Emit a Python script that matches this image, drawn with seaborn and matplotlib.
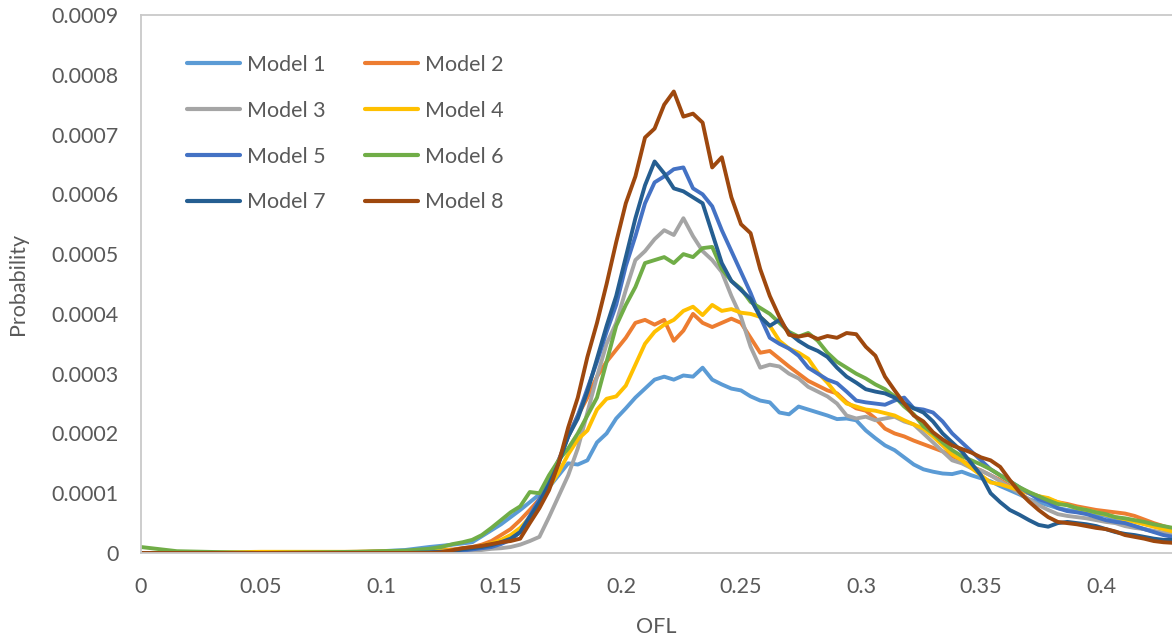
import numpy as np
import pandas as pd
import matplotlib
matplotlib.use("Agg")
import matplotlib.pyplot as plt
from matplotlib.ticker import FuncFormatter, MultipleLocator
import seaborn as sns

# OFL sample positions: a sparse lead-in, then a regular grid over the main mass
ofl_lead = [0.0, 0.015, 0.05, 0.09, 0.11, 0.12, 0.125]
ofl_main = [round(0.13 + 0.004 * i, 3) for i in range(76)]
ofl = ofl_lead + ofl_main

# Probabilities in units of 1e-4
model_1 = [0, 0, 0, 0.01, 0.05, 0.10, 0.12,
           0.14, 0.16, 0.18, 0.28, 0.38, 0.48, 0.60, 0.72, 0.85, 0.98,
           1.10, 1.30, 1.50, 1.48, 1.55, 1.85, 2.00, 2.25, 2.42, 2.60,
           2.75, 2.90, 2.95, 2.90, 2.97, 2.95, 3.10, 2.90, 2.82, 2.75,
           2.72, 2.62, 2.55, 2.52, 2.35, 2.32, 2.45, 2.40, 2.35, 2.30,
           2.24, 2.25, 2.22, 2.05, 1.92, 1.80, 1.72, 1.60, 1.48, 1.40,
           1.36, 1.33, 1.32, 1.36, 1.30, 1.25, 1.20, 1.12, 1.05, 0.98,
           0.90, 0.85, 0.80, 0.75, 0.72, 0.70, 0.68, 0.65, 0.62, 0.55,
           0.50, 0.45, 0.40, 0.36, 0.33, 0.30]
model_2 = [0, 0, 0, 0.02, 0.03, 0.04, 0.05,
           0.06, 0.08, 0.10, 0.14, 0.20, 0.30, 0.40, 0.55, 0.72, 0.90,
           1.20, 1.55, 1.95, 2.30, 2.60, 2.95, 3.20, 3.40, 3.60, 3.85,
           3.90, 3.82, 3.90, 3.55, 3.72, 4.00, 3.85, 3.78, 3.85, 3.92,
           3.85, 3.60, 3.35, 3.38, 3.25, 3.12, 3.00, 2.88, 2.80, 2.72,
           2.67, 2.52, 2.42, 2.38, 2.25, 2.08, 2.00, 1.95, 1.88, 1.82,
           1.76, 1.70, 1.62, 1.55, 1.45, 1.38, 1.30, 1.22, 1.12, 1.05,
           1.00, 0.95, 0.90, 0.85, 0.82, 0.78, 0.75, 0.72, 0.70, 0.68,
           0.66, 0.62, 0.56, 0.50, 0.45, 0.40]
model_3 = [0, 0, 0, 0, 0.01, 0.01, 0.02,
           0.02, 0.03, 0.04, 0.05, 0.07, 0.08, 0.10, 0.14, 0.20, 0.27,
           0.60, 0.95, 1.30, 1.75, 2.35, 2.95, 3.50, 3.85, 4.40, 4.90,
           5.05, 5.25, 5.40, 5.32, 5.60, 5.30, 5.05, 4.90, 4.70, 4.30,
           3.95, 3.45, 3.10, 3.15, 3.12, 3.00, 2.92, 2.78, 2.70, 2.62,
           2.50, 2.30, 2.25, 2.28, 2.22, 2.25, 2.28, 2.20, 2.15, 2.00,
           1.85, 1.70, 1.55, 1.50, 1.42, 1.38, 1.30, 1.20, 1.10, 1.00,
           0.90, 0.80, 0.72, 0.65, 0.62, 0.60, 0.58, 0.55, 0.52, 0.50,
           0.45, 0.42, 0.40, 0.37, 0.34, 0.32]
model_4 = [0, 0, 0.02, 0.02, 0.03, 0.04, 0.04,
           0.05, 0.07, 0.09, 0.12, 0.16, 0.22, 0.30, 0.42, 0.60, 0.85,
           1.10, 1.35, 1.65, 1.90, 2.05, 2.40, 2.58, 2.62, 2.80, 3.15,
           3.50, 3.70, 3.82, 3.90, 4.05, 4.12, 3.98, 4.15, 4.05, 4.08,
           4.02, 4.00, 3.95, 3.80, 3.55, 3.42, 3.35, 3.25, 3.02, 2.85,
           2.65, 2.50, 2.45, 2.40, 2.38, 2.34, 2.30, 2.22, 2.15, 2.08,
           1.95, 1.80, 1.65, 1.55, 1.42, 1.30, 1.18, 1.15, 1.10, 1.05,
           1.00, 0.95, 0.92, 0.85, 0.80, 0.75, 0.72, 0.68, 0.64, 0.60,
           0.56, 0.52, 0.48, 0.44, 0.40, 0.36]
model_5 = [0, 0, 0, 0, 0.01, 0.01, 0.02,
           0.02, 0.04, 0.06, 0.08, 0.10, 0.15, 0.22, 0.35, 0.62, 0.90,
           1.20, 1.55, 1.95, 2.30, 2.75, 3.20, 3.70, 4.15, 4.80, 5.30,
           5.85, 6.20, 6.30, 6.42, 6.45, 6.10, 6.00, 5.80, 5.40, 5.05,
           4.70, 4.35, 3.95, 3.60, 3.50, 3.42, 3.30, 3.10, 3.00, 2.90,
           2.84, 2.70, 2.55, 2.52, 2.50, 2.48, 2.55, 2.60, 2.42, 2.40,
           2.35, 2.20, 2.00, 1.85, 1.70, 1.55, 1.40, 1.30, 1.20, 1.10,
           1.00, 0.90, 0.85, 0.75, 0.70, 0.68, 0.65, 0.60, 0.55, 0.52,
           0.50, 0.45, 0.40, 0.35, 0.30, 0.27]
model_6 = [0.10, 0.03, 0, 0.02, 0.04, 0.07, 0.10,
           0.15, 0.18, 0.22, 0.30, 0.42, 0.55, 0.68, 0.78, 1.02, 1.00,
           1.30, 1.55, 1.75, 2.00, 2.30, 2.60, 3.20, 3.80, 4.15, 4.45,
           4.85, 4.90, 4.95, 4.85, 5.00, 4.95, 5.10, 5.12, 4.75, 4.55,
           4.42, 4.20, 4.10, 4.00, 3.85, 3.70, 3.62, 3.68, 3.55, 3.35,
           3.20, 3.10, 3.00, 2.92, 2.82, 2.74, 2.62, 2.45, 2.32, 2.12,
           2.00, 1.85, 1.72, 1.62, 1.55, 1.48, 1.40, 1.30, 1.20, 1.10,
           1.02, 0.95, 0.88, 0.82, 0.80, 0.75, 0.72, 0.68, 0.65, 0.60,
           0.58, 0.55, 0.52, 0.48, 0.45, 0.42]
model_7 = [0, 0, 0, 0, 0, 0.01, 0.02,
           0.03, 0.06, 0.08, 0.10, 0.13, 0.18, 0.24, 0.35, 0.60, 0.85,
           1.15, 1.50, 1.95, 2.25, 2.70, 3.25, 3.80, 4.30, 4.95, 5.60,
           6.15, 6.55, 6.35, 6.10, 6.05, 5.95, 5.85, 5.35, 4.85, 4.55,
           4.40, 4.25, 3.95, 3.80, 3.90, 3.68, 3.55, 3.45, 3.38, 3.28,
           3.10, 2.95, 2.85, 2.74, 2.70, 2.67, 2.60, 2.50, 2.42, 2.35,
           2.20, 2.00, 1.85, 1.70, 1.50, 1.30, 1.00, 0.85, 0.72, 0.64,
           0.55, 0.47, 0.44, 0.50, 0.52, 0.50, 0.48, 0.45, 0.40, 0.35,
           0.32, 0.30, 0.27, 0.24, 0.22, 0.22]
model_8 = [0, 0, 0, 0, 0, 0, 0.01,
           0.05, 0.08, 0.10, 0.12, 0.15, 0.18, 0.20, 0.24, 0.50, 0.75,
           1.05, 1.50, 2.10, 2.60, 3.28, 3.85, 4.50, 5.20, 5.85, 6.30,
           6.95, 7.10, 7.50, 7.72, 7.30, 7.35, 7.20, 6.45, 6.62, 5.95,
           5.50, 5.35, 4.75, 4.30, 3.95, 3.65, 3.62, 3.65, 3.58, 3.63,
           3.60, 3.68, 3.66, 3.45, 3.30, 2.95, 2.72, 2.50, 2.30, 2.20,
           2.02, 1.90, 1.80, 1.74, 1.68, 1.60, 1.55, 1.44, 1.22, 1.02,
           0.86, 0.72, 0.60, 0.52, 0.50, 0.48, 0.45, 0.42, 0.40, 0.36,
           0.30, 0.27, 0.24, 0.20, 0.18, 0.17]

model_names = ["Model 1", "Model 2", "Model 3", "Model 4",
               "Model 5", "Model 6", "Model 7", "Model 8"]
series = [model_1, model_2, model_3, model_4,
          model_5, model_6, model_7, model_8]
colors = ["#5B9BD5", "#ED7D31", "#A5A5A5", "#FFC000",
          "#4472C4", "#70AD47", "#255E91", "#9E480E"]

frames = []
for name, vals in zip(model_names, series):
    frames.append(pd.DataFrame({
        "OFL": ofl,
        "Probability": np.array(vals) * 1e-4,
        "Model": name,
    }))
df = pd.concat(frames, ignore_index=True)

sns.set_theme(style="white")
plt.rcParams["font.family"] = ["Lato", "DejaVu Sans"]

W, H = 1172, 638
FS = 15.5
fig = plt.figure(figsize=(W / 100, H / 100), dpi=100)
ax = fig.add_axes([141 / W, (H - 553) / H, (W - 141) / W, (553 - 15) / H])

sns.lineplot(data=df, x="OFL", y="Probability", hue="Model",
             palette=dict(zip(model_names, colors)), linewidth=2.8,
             estimator=None, sort=True, ax=ax)

ax.set_xlim(0, (W - 141) / 2400)
ax.set_ylim(0, 0.0009)
ax.xaxis.set_major_locator(MultipleLocator(0.05))
ax.yaxis.set_major_locator(MultipleLocator(0.0001))
ax.xaxis.set_major_formatter(FuncFormatter(lambda v, p: f"{v:g}"))
ax.yaxis.set_major_formatter(FuncFormatter(
    lambda v, p: f"{v:.4f}".rstrip("0").rstrip(".") if v > 1e-9 else "0"))

text_color = "#595959"
ax.tick_params(axis="both", length=0, labelsize=FS, labelcolor=text_color)
ax.tick_params(axis="y", pad=16)
ax.tick_params(axis="x", pad=17)
ax.grid(False)

for side in ["left", "top", "bottom"]:
    ax.spines[side].set_color("#C9C9C9")
    ax.spines[side].set_linewidth(1.3)
ax.spines["right"].set_visible(False)

ax.set_xlabel("OFL", fontsize=FS, color=text_color, labelpad=15)
ax.set_ylabel("Probability", fontsize=FS, color=text_color, labelpad=17)

handles, labels = ax.get_legend_handles_labels()
order = [0, 2, 4, 6, 1, 3, 5, 7]
leg = ax.legend([handles[i] for i in order], [labels[i] for i in order],
                ncol=2, loc="upper left",
                bbox_to_anchor=(187 / W, 1 - 55 / H), bbox_transform=fig.transFigure,
                frameon=False, fontsize=FS, handlelength=2.47,
                handletextpad=0.3, columnspacing=1.85, labelspacing=1.2,
                borderpad=0, borderaxespad=0)
for t in leg.get_texts():
    t.set_color(text_color)
for line in leg.get_lines():
    line.set_linewidth(3.0)

fig.savefig("out.png", dpi=100)
